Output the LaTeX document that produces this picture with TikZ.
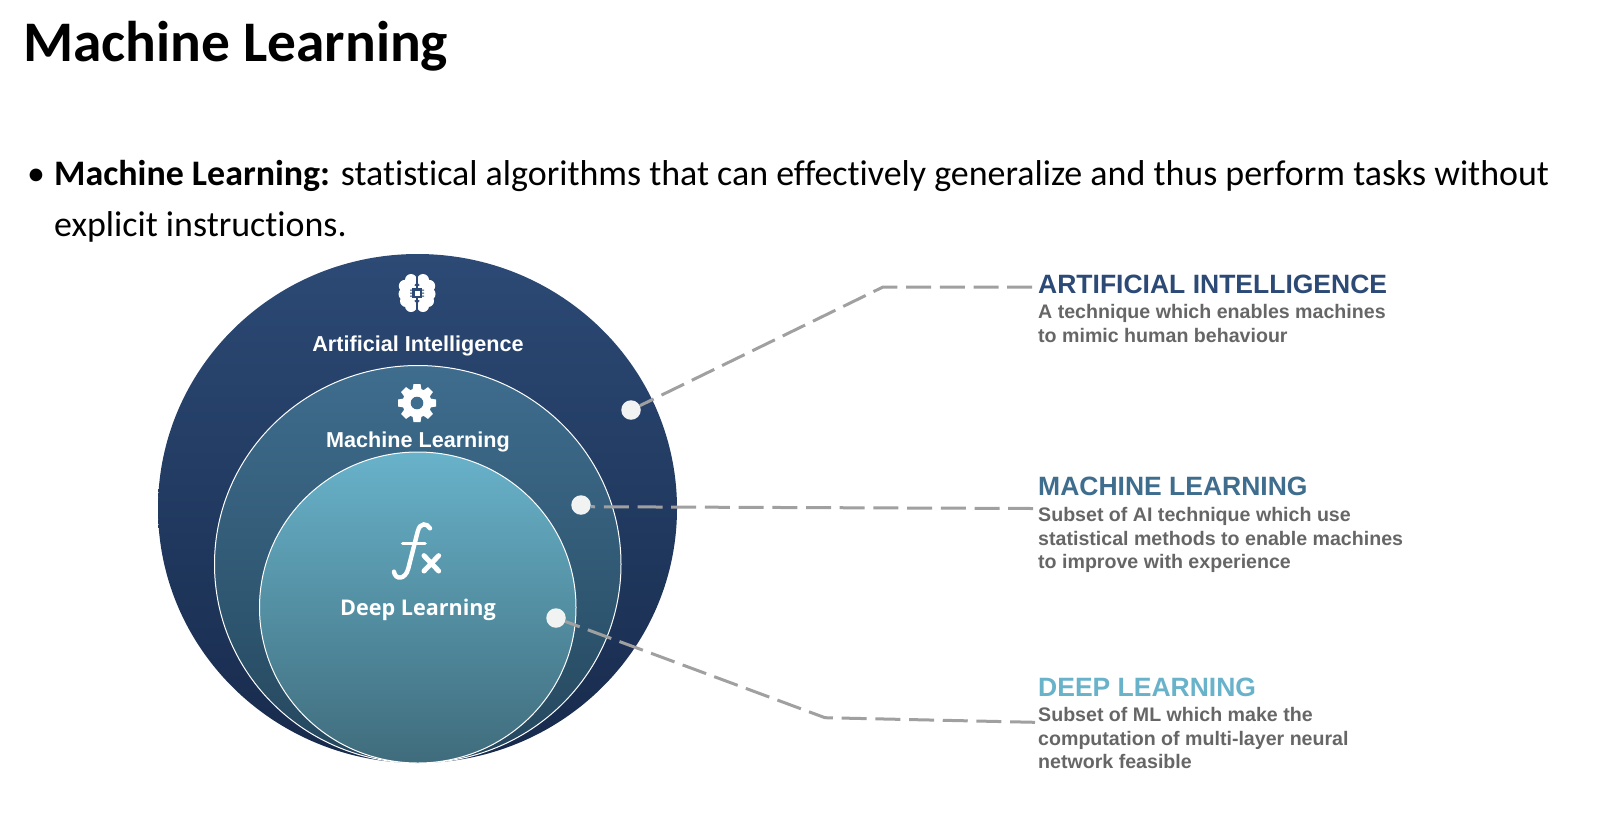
\documentclass[tikz,border=0pt]{standalone}
\usepackage{fontspec}
\setmainfont[Ligatures=NoCommon]{Carlito}
\newfontfamily\arialfont{Liberation Sans}
\newfontfamily\opensansfont{Open Sans}
\usetikzlibrary{shapes.geometric}
\definecolor{mlNavy}{HTML}{2C4A75}
\definecolor{mlNavyDark}{HTML}{172A4C}
\definecolor{mlSteel}{HTML}{3F6D8E}
\definecolor{mlSteelDark}{HTML}{24475D}
\definecolor{mlTeal}{HTML}{68B2CA}
\definecolor{mlTealDark}{HTML}{3F6C7C}
\definecolor{mlGrey}{HTML}{666666}
\definecolor{mlDash}{HTML}{A0A0A0}
\definecolor{mlDot}{HTML}{F1F3F3}

\begin{document}
\begin{tikzpicture}[x=1pt, y=-1pt,
  disc/.style={ellipse, draw=white, line width=1pt, inner sep=0pt},
  dot/.style={circle, fill=mlDot, inner sep=0pt, minimum size=19.5pt},
  lnk/.style={mlDash, line width=3pt, dash pattern=on 25pt off 8.7pt},
  inlbl/.style={text=white, font=\arialfont\bfseries\fontsize{21.6}{25}\selectfont, inner sep=0pt},
  hdr/.style={anchor=base west, inner sep=0pt, font=\arialfont\bfseries\fontsize{26.5}{30}\selectfont},
  dsc/.style={anchor=base west, inner sep=0pt, align=left, text=mlGrey, font=\arialfont\bfseries\fontsize{19.6}{23.5}\selectfont},
  bdy/.style={anchor=base west, inner sep=0pt, font=\fontsize{35.93}{42}\selectfont}]
\useasboundingbox (0,0) rectangle (1601,823);
\node[anchor=base west, inner sep=0pt, font=\bfseries\fontsize{57.4}{66}\selectfont] (ttl) at (23,61) {Machine Learning};
\node[bdy] (blt) at (27,185) {•};
\node[bdy] (bd1) at (54,185) {\textbf{Machine Learning:} statistical algorithms that can effectively generalize and thus perform tasks without};
\node[bdy] (bd2) at (54,236) {explicit instructions.};

% nested discs
\node[disc, draw=none, minimum width=519pt, minimum height=509pt, top color=mlNavy, bottom color=mlNavyDark] (aiDisc) at (417.5,508.5) {};
\node[disc, minimum width=406.5pt, minimum height=397.5pt, top color=mlSteel, bottom color=mlSteelDark] (mlDisc) at (417.75,564.25) {};
\node[disc, minimum width=316.5pt, minimum height=311pt, top color=mlTeal, bottom color=mlTealDark] (dlDisc) at (417.75,607.5) {};
\node[inlbl] (aiLbl) at (418,346) {Artificial Intelligence};
\node[inlbl] (mlLbl) at (418,442) {Machine Learning};
\node[inlbl, font=\opensansfont\bfseries\fontsize{21.6}{25}\selectfont] (dlLbl) at (418,610) {Deep Learning};

% brain icon
\begin{scope}[shift={(417,293)}]
\foreach \s in {-1,1}{
  \fill[white] (\s*6,-13) circle (6) (\s*12,-7) circle (6.2) (\s*12,1) circle (6.5) (\s*11,8) circle (6) (\s*6,13) circle (6) (\s*7,0) circle (9);
}
\fill[mlNavy] (-0.8,-20) rectangle (0.8,20);
\fill[mlNavy] (-5,-5) rectangle (5,5);
\fill[white] (-2.5,-2.5) rectangle (2.5,2.5);
\foreach \s in {-1,1}{
  \fill[mlNavy] (\s*5,-3.5) rectangle (\s*7,-2.5) (\s*5,-0.5) rectangle (\s*7,0.5) (\s*5,2.5) rectangle (\s*7,3.5);
}
\end{scope}

% gear icon
\begin{scope}[shift={(417,403)}]
\foreach \a in {0,45,...,315}{
  \fill[white, rotate=\a] (-4.5,-13) -- (-3.5,-19) -- (3.5,-19) -- (4.5,-13) -- cycle;
}
\fill[white] (0,0) circle (14.5);
\fill[mlSteel] (0,0) circle (6.3);
\end{scope}

% fx icon
\begin{scope}[shift={(340,500)}, scale=1/3]
\draw[white, line width=4.4pt, line cap=round] (270,85) .. controls (262,70) and (240,65) .. (233,95) -- (205,205) .. controls (197,240) and (165,240) .. (162,215);
\draw[white, line width=3.6pt, line cap=round] (188,130) -- (255,130);
\draw[white, line width=5pt, line cap=round] (252,167) -- (296,213) (296,167) -- (252,213);
\end{scope}

\node[dot] (aiDot) at (631,410) {};
\node[dot] (mlDot) at (581,505) {};
\node[dot] (dlDot) at (556,618) {};

\node[hdr, text=mlNavy] (aiHdr) at (1038,293) {ARTIFICIAL INTELLIGENCE};
\node[dsc] (aiDsc) at (1038,342) {A technique which enables machines\\to mimic human behaviour};
\node[hdr, text=mlSteel] (mlHdr) at (1038,495) {MACHINE LEARNING};
\node[dsc] (mlDsc) at (1038,568.5) {Subset of AI technique which use\\statistical methods to enable machines\\to improve with experience};
\node[hdr, text=mlTeal] (dlHdr) at (1038,696) {DEEP LEARNING};
\node[dsc] (dlDsc) at (1038,768.5) {Subset of ML which make the\\computation of multi-layer neural\\network feasible};

\coordinate (aiBend) at (883,287);
\coordinate (aiEnd) at (1032,287);
\coordinate (mlEnd) at (1033,508.5);
\coordinate (dlBend) at (825,717.7);
\coordinate (dlEnd) at (1035,722.3);
\draw[lnk, dash phase=9.7pt] (aiDot) -- (aiBend) -- (aiEnd);
\draw[lnk, dash phase=20.7pt] (mlDot.-10) -- (mlEnd);
\draw[lnk, dash phase=9.7pt] (dlDot) -- (dlBend) -- (dlEnd);
\end{tikzpicture}
\end{document}
